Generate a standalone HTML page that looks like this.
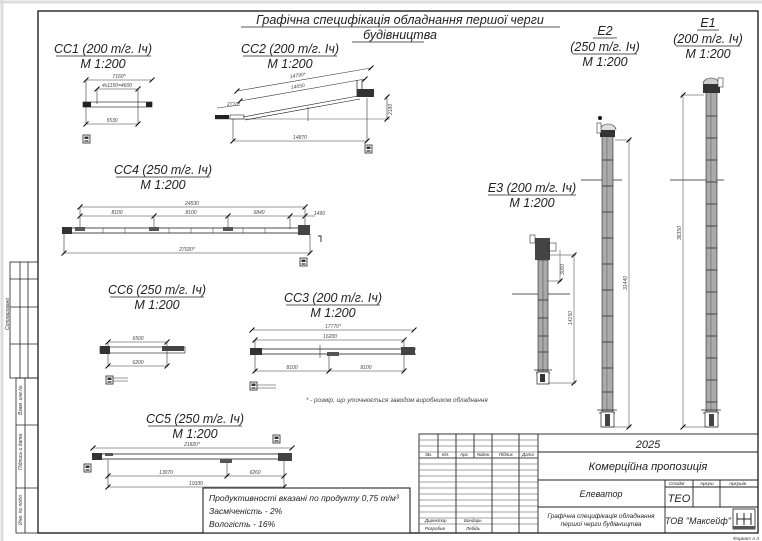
<!DOCTYPE html>
<html><head><meta charset="utf-8"><style>
html,body{margin:0;padding:0;background:#fff}
svg{display:block}
text{font-family:"Liberation Sans",sans-serif;font-style:italic;fill:#222}
.t{font-size:12.5px}
.d{font-size:5px;fill:#444}
.s{font-size:5px;fill:#333}
</style></head><body>
<svg width="762" height="541" viewBox="0 0 762 541" xmlns="http://www.w3.org/2000/svg">
<defs>
<symbol id="tk" overflow="visible"><line x1="-2.5" y1="2.5" x2="2.5" y2="-2.5" stroke="#000" stroke-width="1"/></symbol>
<symbol id="ic" overflow="visible"><rect x="0" y="0" width="7" height="8" fill="#fff" stroke="#222" stroke-width="0.8"/><rect x="1.5" y="1.5" width="4" height="2.5" fill="#333"/><rect x="1.5" y="5" width="4" height="2" fill="#777"/></symbol>
</defs>
<rect x="0" y="0" width="762" height="541" fill="#fff"/>
<line x1="0" y1="2" x2="762" y2="2" stroke="#ddd" stroke-width="3"/>
<line x1="2" y1="0" x2="2" y2="541" stroke="#ddd" stroke-width="3"/>
<!-- main frame -->
<rect x="38" y="11" width="720" height="522" fill="none" stroke="#111" stroke-width="1.3"/>
<!-- left strips -->
<g stroke="#222" stroke-width="0.8" fill="none">
<rect x="10" y="262" width="28" height="116"/>
<line x1="20" y1="262" x2="20" y2="378"/><line x1="28" y1="262" x2="28" y2="378"/>
<line x1="10" y1="279" x2="38" y2="279"/><line x1="10" y1="307" x2="38" y2="307"/><line x1="10" y1="344" x2="38" y2="344"/>
<rect x="16" y="378" width="22" height="155"/>
<line x1="25" y1="378" x2="25" y2="533"/>
<line x1="16" y1="425" x2="38" y2="425"/><line x1="16" y1="488" x2="38" y2="488"/>
</g>
<text class="s" transform="translate(9,330) rotate(-90)">Сотласовано</text>
<text class="s" transform="translate(22,415) rotate(-90)">Взам. инв.№</text>
<text class="s" transform="translate(22,470) rotate(-90)">Підпись и дата</text>
<text class="s" transform="translate(22,525) rotate(-90)">Инв. № подл.</text>

<!-- main title -->
<text class="t" x="400" y="24" text-anchor="middle">Графічна специфікація обладнання першої черги</text>
<line x1="241" y1="27" x2="560" y2="27" stroke="#222" stroke-width="0.8"/>
<text class="t" x="400" y="39" text-anchor="middle">будівництва</text>
<line x1="352" y1="42" x2="424" y2="42" stroke="#222" stroke-width="0.8"/>

<!-- headings -->
<g class="t" text-anchor="middle">
<text x="103" y="53">CC1 (200 т/г. Іч)</text><text x="103" y="68">М 1:200</text>
<text x="290" y="53">CC2 (200 т/г. Іч)</text><text x="290" y="68">М 1:200</text>
<text x="163" y="174">CC4 (250 т/г. Іч)</text><text x="163" y="189">М 1:200</text>
<text x="157" y="294">CC6 (250 т/г. Іч)</text><text x="157" y="309">М 1:200</text>
<text x="333" y="302">CC3 (200 т/г. Іч)</text><text x="333" y="317">М 1:200</text>
<text x="195" y="423">CC5 (250 т/г. Іч)</text><text x="195" y="438">М 1:200</text>
<text x="532" y="192">E3 (200 т/г. Іч)</text><text x="532" y="207">М 1:200</text>
<text x="605" y="35">E2</text><text x="605" y="51">(250 т/г. Іч)</text><text x="605" y="66">М 1:200</text>
<text x="708" y="27">E1</text><text x="708" y="43">(200 т/г. Іч)</text><text x="708" y="58">М 1:200</text>
</g>
<g stroke="#222" stroke-width="0.8">
<line x1="56" y1="56" x2="151" y2="56"/><line x1="243" y1="56" x2="337" y2="56"/>
<line x1="116" y1="177" x2="210" y2="177"/><line x1="110" y1="297" x2="204" y2="297"/>
<line x1="286" y1="305" x2="380" y2="305"/><line x1="148" y1="426" x2="242" y2="426"/>
<line x1="488" y1="195" x2="576" y2="195"/><line x1="593" y1="38" x2="617" y2="38"/>
<line x1="573" y1="54" x2="637" y2="54"/><line x1="697" y1="30" x2="719" y2="30"/><line x1="676" y1="46" x2="740" y2="46"/>
</g>

<g stroke="#333" stroke-width="0.6" fill="none">
<!-- CC1 -->
<line x1="86" y1="80" x2="152" y2="80"/><use href="#tk" x="86" y="80"/><use href="#tk" x="152" y="80"/>
<line x1="97" y1="89" x2="138" y2="89"/><use href="#tk" x="97" y="89"/><use href="#tk" x="138" y="89"/>
<line x1="86" y1="80" x2="86" y2="124"/><line x1="97" y1="89" x2="97" y2="104"/><line x1="138" y1="89" x2="138" y2="124"/>
<rect x="83" y="102" width="69" height="5" stroke="#111"/>
<line x1="86" y1="124" x2="138" y2="124"/><use href="#tk" x="86" y="124"/><use href="#tk" x="138" y="124"/>
</g>
<rect x="83" y="102" width="8" height="5" fill="#222"/><rect x="146" y="102" width="6" height="5" fill="#222"/>
<use href="#ic" x="83" y="135"/>
<text class="d" x="119" y="78" text-anchor="middle">7160*</text>
<text class="d" x="117" y="87" text-anchor="middle">4x1150=4600</text>
<text class="d" x="112" y="122" text-anchor="middle">5530</text>

<!-- CC2 -->
<g stroke="#333" stroke-width="0.6" fill="none">
<line x1="237" y1="91" x2="371" y2="68"/><use href="#tk" x="237" y="91"/><use href="#tk" x="371" y="68"/>
<line x1="240" y1="101" x2="365" y2="79"/><use href="#tk" x="240" y="101"/><use href="#tk" x="365" y="79"/>
<line x1="217" y1="108" x2="240" y2="105"/>
<line x1="215" y1="119" x2="390" y2="119" stroke="#555"/>
<line x1="233" y1="119" x2="233" y2="141"/><line x1="367" y1="98" x2="367" y2="141"/>
<line x1="233" y1="141" x2="367" y2="141"/><use href="#tk" x="233" y="141"/><use href="#tk" x="367" y="141"/>
<line x1="387" y1="96" x2="387" y2="120"/><use href="#tk" x="387" y="97"/><use href="#tk" x="387" y="119"/>
<path d="M243 117 L358 96 M245 120 L360 99" stroke="#111"/>
<line x1="308" y1="107" x2="308" y2="121"/>
</g>
<rect x="215" y="115" width="14" height="4" fill="#222"/>
<rect x="230" y="115" width="14" height="4" fill="none" stroke="#333" stroke-width="0.6"/>
<rect x="357" y="89" width="17" height="8" fill="#333"/>
<line x1="357" y1="80" x2="357" y2="97" stroke="#333" stroke-width="0.8"/><line x1="362" y1="80" x2="362" y2="97" stroke="#333" stroke-width="0.8"/>
<use href="#ic" x="365" y="145"/>
<text class="d" x="298" y="77" text-anchor="middle" transform="rotate(-9 298 77)">14790*</text>
<text class="d" x="298" y="88" text-anchor="middle" transform="rotate(-9 298 88)">14050</text>
<text class="d" x="227" y="106">2710*</text>
<text class="d" x="300" y="139" text-anchor="middle">14870</text>
<text class="d" transform="translate(392,115) rotate(-90)">2180</text>

<!-- CC4 -->
<g stroke="#333" stroke-width="0.6" fill="none">
<line x1="80" y1="207" x2="305" y2="207"/><use href="#tk" x="80" y="207"/><use href="#tk" x="305" y="207"/>
<line x1="80" y1="216" x2="315" y2="216"/>
<use href="#tk" x="80" y="216"/><use href="#tk" x="154" y="216"/><use href="#tk" x="228" y="216"/><use href="#tk" x="290" y="216"/><use href="#tk" x="305" y="216"/>
<line x1="80" y1="207" x2="80" y2="229"/><line x1="154" y1="216" x2="154" y2="229"/><line x1="228" y1="216" x2="228" y2="229"/><line x1="290" y1="216" x2="290" y2="229"/><line x1="305" y1="207" x2="305" y2="229"/>
<line x1="64" y1="231" x2="64" y2="254"/><line x1="310" y1="234" x2="310" y2="254"/>
<line x1="64" y1="253" x2="310" y2="253"/><use href="#tk" x="64" y="253"/><use href="#tk" x="310" y="253"/>
</g>
<g stroke="#111" stroke-width="0.8"><line x1="62" y1="228" x2="310" y2="228"/><line x1="62" y1="233" x2="310" y2="233"/></g>
<g stroke="#333" stroke-width="0.5">
<line x1="103" y1="228" x2="103" y2="233"/><line x1="125" y1="228" x2="125" y2="233"/><line x1="169" y1="228" x2="169" y2="233"/><line x1="191" y1="228" x2="191" y2="233"/><line x1="213" y1="228" x2="213" y2="233"/><line x1="243" y1="228" x2="243" y2="233"/><line x1="265" y1="228" x2="265" y2="233"/>
</g>
<rect x="62" y="227" width="10" height="7" fill="#333"/><rect x="75" y="227" width="10" height="4" fill="#555"/><rect x="149" y="227" width="10" height="4" fill="#555"/><rect x="223" y="227" width="10" height="4" fill="#555"/>
<rect x="298" y="225" width="12" height="10" fill="#444"/>
<path d="M318 236 h3 v6" stroke="#222" fill="none" stroke-width="0.9"/>
<use href="#ic" x="300" y="258"/>
<text class="d" x="192" y="205" text-anchor="middle">24530</text>
<text class="d" x="117" y="214" text-anchor="middle">8100</text><text class="d" x="191" y="214" text-anchor="middle">8100</text><text class="d" x="259" y="214" text-anchor="middle">6840</text><text class="d" x="314" y="215">1490</text>
<text class="d" x="187" y="251" text-anchor="middle">27020*</text>

<!-- CC6 -->
<g stroke="#333" stroke-width="0.6" fill="none">
<line x1="108" y1="342" x2="167" y2="342"/><use href="#tk" x="108" y="342"/><use href="#tk" x="167" y="342"/>
<line x1="108" y1="342" x2="108" y2="367"/><line x1="167" y1="342" x2="167" y2="367"/>
<line x1="108" y1="366" x2="167" y2="366"/><use href="#tk" x="108" y="366"/><use href="#tk" x="167" y="366"/>
<rect x="100" y="347" width="85" height="6" stroke="#111"/>
<line x1="106" y1="378" x2="128" y2="378"/><line x1="106" y1="381" x2="128" y2="381"/>
</g>
<rect x="100" y="346" width="10" height="8" fill="#333"/><rect x="162" y="346" width="22" height="5" fill="#444"/>
<use href="#ic" x="106" y="376"/>
<text class="d" x="138" y="340" text-anchor="middle">6500</text><text class="d" x="138" y="364" text-anchor="middle">6200</text>

<!-- CC3 -->
<g stroke="#333" stroke-width="0.6" fill="none">
<line x1="252" y1="330" x2="414" y2="330"/><use href="#tk" x="252" y="330"/><use href="#tk" x="414" y="330"/>
<line x1="255" y1="340" x2="404" y2="340"/><use href="#tk" x="255" y="340"/><use href="#tk" x="404" y="340"/>
<line x1="255" y1="340" x2="255" y2="372"/><line x1="329" y1="352" x2="329" y2="372"/><line x1="404" y1="340" x2="404" y2="372"/>
<line x1="255" y1="371" x2="404" y2="371"/><use href="#tk" x="255" y="371"/><use href="#tk" x="329" y="371"/><use href="#tk" x="404" y="371"/>
<line x1="320" y1="345" x2="320" y2="358"/>
<line x1="250" y1="385" x2="276" y2="385"/><line x1="250" y1="388" x2="276" y2="388"/>
</g>
<g stroke="#111" stroke-width="0.8"><line x1="250" y1="349" x2="416" y2="349"/><line x1="250" y1="354" x2="416" y2="354"/></g>
<rect x="250" y="348" width="12" height="7" fill="#333"/><rect x="327" y="352" width="12" height="4" fill="#555"/><rect x="401" y="347" width="14" height="8" fill="#444"/>
<use href="#ic" x="250" y="382"/>
<text class="d" x="333" y="328" text-anchor="middle">17770*</text><text class="d" x="330" y="338" text-anchor="middle">16200</text>
<text class="d" x="292" y="369" text-anchor="middle">8100</text><text class="d" x="366" y="369" text-anchor="middle">8100</text>
<text class="d" x="306" y="402" style="font-size:6.3px">* - розмір, що уточнюється заводом виробником обладнання</text>

<!-- CC5 -->
<g stroke="#333" stroke-width="0.6" fill="none">
<line x1="93" y1="448" x2="292" y2="448"/><use href="#tk" x="93" y="448"/><use href="#tk" x="292" y="448"/>
<line x1="108" y1="460" x2="108" y2="488"/><line x1="227" y1="460" x2="227" y2="477"/><line x1="284" y1="460" x2="284" y2="488"/>
<line x1="108" y1="476" x2="284" y2="476"/><use href="#tk" x="108" y="476"/><use href="#tk" x="227" y="476"/><use href="#tk" x="284" y="476"/>
<line x1="108" y1="487" x2="284" y2="487"/><use href="#tk" x="108" y="487"/><use href="#tk" x="284" y="487"/>
</g>
<g stroke="#111" stroke-width="0.8"><line x1="92" y1="454" x2="292" y2="454"/><line x1="92" y1="459" x2="292" y2="459"/></g>
<rect x="92" y="453" width="10" height="7" fill="#333"/><rect x="105" y="453" width="8" height="3" fill="#555"/><rect x="220" y="459" width="12" height="4" fill="#555"/><rect x="278" y="453" width="14" height="8" fill="#444"/>
<use href="#ic" x="84" y="464"/><use href="#ic" x="273" y="435"/>
<text class="d" x="192" y="446" text-anchor="middle">21820*</text>
<text class="d" x="166" y="474" text-anchor="middle">13070</text><text class="d" x="255" y="474" text-anchor="middle">6260</text><text class="d" x="196" y="485" text-anchor="middle">19330</text>

<!-- note box -->
<rect x="203" y="488" width="207" height="45" fill="#fff" stroke="#111" stroke-width="1"/>
<text x="209" y="501" style="font-size:8.5px">Продуктивності вказані по продукту 0,75 т/м³</text>
<text x="209" y="514" style="font-size:8.5px">Засміченість - 2%</text>
<text x="209" y="527" style="font-size:8.5px">Вологість - 16%</text>

<!-- break lines -->
<g stroke="#222" stroke-width="0.7">
<line x1="581" y1="180" x2="622" y2="180"/><line x1="670" y1="180" x2="724" y2="180"/><line x1="512" y1="294" x2="570" y2="294"/>
</g>

<!-- E3 -->
<rect x="538" y="260" width="10" height="123" fill="#aaa" stroke="#222" stroke-width="0.6"/>
<line x1="543" y1="260" x2="543" y2="373" stroke="#555" stroke-width="0.6"/>
<g stroke="#222" stroke-width="0.7"><line x1="538" y1="300" x2="548" y2="300"/><line x1="538" y1="318" x2="548" y2="318"/><line x1="538" y1="336" x2="548" y2="336"/><line x1="538" y1="352" x2="548" y2="352"/></g>
<rect x="535" y="238" width="15" height="22" fill="#444"/>
<rect x="530" y="235" width="5" height="8" fill="none" stroke="#333" stroke-width="0.6"/>
<rect x="548" y="243" width="8" height="8" fill="none" stroke="#333" stroke-width="0.6"/>
<path d="M534 370 h18 M536 373 h14" stroke="#222" stroke-width="0.8"/>
<rect x="537" y="372" width="12" height="12" fill="#fff" stroke="#222" stroke-width="0.7"/><rect x="540" y="374" width="5" height="8" fill="#333"/>
<g stroke="#333" stroke-width="0.5" fill="none">
<line x1="548" y1="255" x2="576" y2="255"/><line x1="560" y1="250" x2="560" y2="282"/><line x1="548" y1="281" x2="562" y2="281"/>
<line x1="574" y1="254" x2="574" y2="383"/><line x1="548" y1="383" x2="576" y2="383"/>
<use href="#tk" x="574" y="255"/><use href="#tk" x="574" y="383"/><use href="#tk" x="560" y="281"/>
</g>
<text class="d" transform="translate(564,275) rotate(-90)">3000</text>
<text class="d" transform="translate(572,325) rotate(-90)">14150</text>

<!-- E2 -->
<rect x="602" y="136" width="11" height="282" fill="#aaa" stroke="#222" stroke-width="0.6"/>
<line x1="607" y1="136" x2="607" y2="410" stroke="#666" stroke-width="0.6"/>
<g stroke="#222" stroke-width="0.7">
<line x1="602" y1="160" x2="613" y2="160"/><line x1="602" y1="186" x2="613" y2="186"/><line x1="602" y1="212" x2="613" y2="212"/><line x1="602" y1="238" x2="613" y2="238"/><line x1="602" y1="264" x2="613" y2="264"/><line x1="602" y1="290" x2="613" y2="290"/><line x1="602" y1="316" x2="613" y2="316"/><line x1="602" y1="342" x2="613" y2="342"/><line x1="602" y1="368" x2="613" y2="368"/><line x1="602" y1="392" x2="613" y2="392"/></g>
<rect x="600" y="130" width="15" height="7" fill="#333"/>
<path d="M600 130 a8 6 0 0 1 16 0" fill="#ddd" stroke="#333" stroke-width="0.6"/>
<rect x="597" y="123" width="4" height="10" fill="#fff" stroke="#333" stroke-width="0.6"/>
<circle cx="600" cy="118" r="2" fill="#111"/>
<path d="M597 410 h20 M599 413 h16" stroke="#222" stroke-width="0.8"/>
<rect x="601" y="412" width="13" height="15" fill="#fff" stroke="#222" stroke-width="0.7"/><rect x="605" y="414" width="5" height="12" fill="#444"/>
<g stroke="#333" stroke-width="0.5" fill="none"><line x1="615" y1="140" x2="631" y2="140"/><line x1="629" y1="140" x2="629" y2="427"/><line x1="602" y1="427" x2="631" y2="427"/><use href="#tk" x="629" y="140"/><use href="#tk" x="629" y="427"/></g>
<text class="d" transform="translate(627,290) rotate(-90)">31440</text>

<!-- E1 -->
<rect x="706" y="92" width="11" height="326" fill="#aaa" stroke="#222" stroke-width="0.6"/>
<line x1="711" y1="92" x2="711" y2="410" stroke="#666" stroke-width="0.6"/>
<g stroke="#222" stroke-width="0.7">
<line x1="706" y1="116" x2="717" y2="116"/><line x1="706" y1="138" x2="717" y2="138"/><line x1="706" y1="160" x2="717" y2="160"/><line x1="706" y1="182" x2="717" y2="182"/><line x1="706" y1="204" x2="717" y2="204"/><line x1="706" y1="226" x2="717" y2="226"/><line x1="706" y1="248" x2="717" y2="248"/><line x1="706" y1="270" x2="717" y2="270"/><line x1="706" y1="292" x2="717" y2="292"/><line x1="706" y1="314" x2="717" y2="314"/><line x1="706" y1="336" x2="717" y2="336"/><line x1="706" y1="358" x2="717" y2="358"/><line x1="706" y1="380" x2="717" y2="380"/><line x1="706" y1="402" x2="717" y2="402"/></g>
<rect x="703" y="84" width="17" height="9" fill="#333"/>
<path d="M703 84 a8 6 0 0 1 16 0" fill="#ccc" stroke="#333" stroke-width="0.6"/>
<rect x="718" y="78" width="5" height="9" fill="#fff" stroke="#333" stroke-width="0.6"/>
<path d="M701 410 h20 M703 413 h16" stroke="#222" stroke-width="0.8"/>
<rect x="705" y="412" width="13" height="15" fill="#fff" stroke="#222" stroke-width="0.7"/><rect x="709" y="414" width="5" height="12" fill="#444"/>
<g stroke="#333" stroke-width="0.5" fill="none"><line x1="681" y1="95" x2="704" y2="95"/><line x1="683" y1="95" x2="683" y2="427"/><line x1="683" y1="427" x2="717" y2="427"/><use href="#tk" x="683" y="95"/><use href="#tk" x="683" y="427"/></g>
<text class="d" transform="translate(681,240) rotate(-90)">36350</text>

<!-- title block -->
<g stroke="#222" stroke-width="0.9" fill="none">
<rect x="419" y="434" width="339" height="99"/>
<line x1="538" y1="434" x2="538" y2="533"/>
<line x1="538" y1="452" x2="758" y2="452"/><line x1="538" y1="480" x2="758" y2="480"/><line x1="538" y1="507" x2="758" y2="507"/>
<line x1="665" y1="480" x2="665" y2="533"/><line x1="693" y1="480" x2="693" y2="507"/><line x1="720" y1="480" x2="720" y2="507"/>
<line x1="665" y1="487" x2="758" y2="487"/>
<line x1="438" y1="434" x2="438" y2="458"/><line x1="474" y1="434" x2="474" y2="458"/>
<line x1="456" y1="434" x2="456" y2="533"/><line x1="492" y1="434" x2="492" y2="533"/><line x1="519" y1="434" x2="519" y2="533"/>
</g>
<g stroke="#444" stroke-width="0.5">
<line x1="419" y1="440" x2="538" y2="440"/><line x1="419" y1="446" x2="538" y2="446"/><line x1="419" y1="452" x2="538" y2="452"/><line x1="419" y1="458" x2="538" y2="458" stroke-width="0.9"/>
<line x1="419" y1="464" x2="538" y2="464"/><line x1="419" y1="470" x2="538" y2="470"/><line x1="419" y1="476" x2="538" y2="476"/><line x1="419" y1="482" x2="538" y2="482"/><line x1="419" y1="488" x2="538" y2="488"/><line x1="419" y1="494" x2="538" y2="494"/><line x1="419" y1="500" x2="538" y2="500"/><line x1="419" y1="506" x2="538" y2="506"/><line x1="419" y1="512" x2="538" y2="512"/><line x1="419" y1="518" x2="538" y2="518"/><line x1="419" y1="524" x2="538" y2="524"/>
</g>
<g class="s" style="font-size:4.5px">
<text x="425" y="456">Зм.</text><text x="442" y="456">Кіл.</text><text x="460" y="456">Арк.</text><text x="477" y="456">№док.</text><text x="499" y="456">Підпис</text><text x="522" y="456">Дата</text>
<text x="425" y="522">Директор</text><text x="464" y="522">Бондарь</text>
<text x="425" y="530">Розробив</text><text x="466" y="530">Лебідь</text>
<text x="669" y="485">Стадія</text><text x="700" y="485">Аркуш</text><text x="729" y="485">Аркушів</text>
</g>
<text x="648" y="448" text-anchor="middle" style="font-size:11px">2025</text>
<text x="648" y="470" text-anchor="middle" style="font-size:11px">Комерційна пропозиція</text>
<text x="601" y="497" text-anchor="middle" style="font-size:9px">Елеватор</text>
<text x="679" y="502" text-anchor="middle" style="font-size:11px">ТЕО</text>
<text x="601" y="518" text-anchor="middle" style="font-size:6.5px">Графічна специфікація обладнання</text>
<text x="601" y="526" text-anchor="middle" style="font-size:6.5px">першої черги будівництва</text>
<text x="698" y="524" text-anchor="middle" style="font-size:9px">ТОВ "Максейф"</text>
<rect x="733" y="509" width="22" height="20" fill="#fff" stroke="#222" stroke-width="0.8"/>
<path d="M737 513 v12 M751 513 v12 M737 519 h14 M744 513 v12" stroke="#222" stroke-width="1"/>
<rect x="733" y="526" width="22" height="3" fill="#555"/>
<text class="s" x="733" y="540" style="font-size:4.5px">Формат А 3</text>
</svg>
</body></html>
